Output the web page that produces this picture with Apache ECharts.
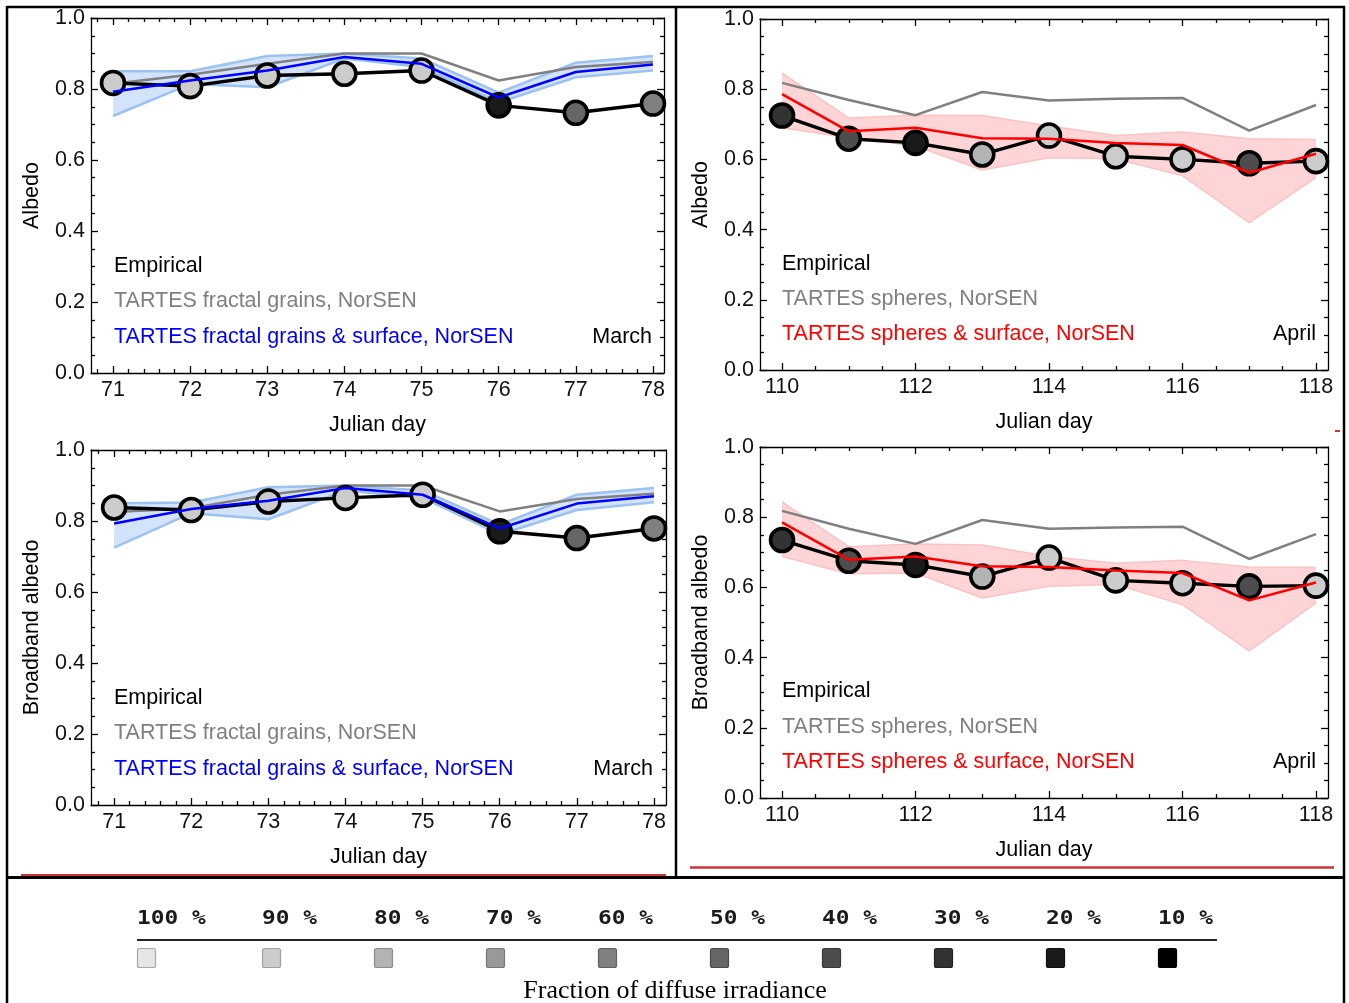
<!DOCTYPE html>
<html>
<head>
<meta charset="utf-8">
<script src="https://cdn.jsdelivr.net/npm/echarts@6/dist/echarts.min.js"></script>
<style>
  html, body { margin: 0; padding: 0; background: #fff; }
  #main { width: 1349px; height: 1003px; }
</style>
</head>
<body>
<div id="main"></div>
<script>
// ---- days ----
const daysMarch = [71, 72, 73, 74, 75, 76, 77, 78];
const daysApril = [110, 111, 112, 113, 114, 115, 116, 117, 118];

// ---- axis tick labels ----
const ticksMarch = [71, 72, 73, 74, 75, 76, 77, 78];
const ticksApril = [110, 112, 114, 116, 118];
const ticksAlbedo = [0, 0.2, 0.4, 0.6, 0.8, 1.0];

// ---- March, albedo ----
const marAlbEmpirical = [0.817, 0.808, 0.838, 0.843, 0.852, 0.754, 0.733, 0.759];
const marAlbDiffuse   = [90, 90, 90, 90, 90, 20, 50, 60];
const marAlbFractal   = [0.815, 0.840, 0.871, 0.900, 0.900, 0.824, 0.862, 0.876];
const marAlbSurface   = [0.792, 0.824, 0.852, 0.890, 0.871, 0.776, 0.848, 0.869];
const marAlbSurfHigh  = [0.850, 0.850, 0.893, 0.900, 0.886, 0.790, 0.874, 0.893];
const marAlbSurfLow   = [0.724, 0.814, 0.805, 0.886, 0.862, 0.762, 0.833, 0.852];

// ---- March, broadband albedo ----
const marBbEmpirical = [0.838, 0.831, 0.855, 0.865, 0.874, 0.771, 0.752, 0.779];
const marBbDiffuse   = [90, 90, 90, 90, 90, 20, 50, 60];
const marBbFractal   = [0.825, 0.836, 0.874, 0.900, 0.900, 0.827, 0.862, 0.877];
const marBbSurface   = [0.793, 0.834, 0.857, 0.893, 0.874, 0.779, 0.849, 0.870];
const marBbSurfHigh  = [0.850, 0.852, 0.895, 0.900, 0.886, 0.790, 0.874, 0.893];
const marBbSurfLow   = [0.725, 0.822, 0.805, 0.886, 0.865, 0.762, 0.831, 0.853];

// ---- April, albedo ----
const aprAlbEmpirical = [0.725, 0.659, 0.647, 0.614, 0.668, 0.609, 0.600, 0.589, 0.595];
const aprAlbDiffuse   = [30, 40, 20, 80, 90, 90, 90, 40, 90];
const aprAlbSpheres   = [0.818, 0.769, 0.726, 0.792, 0.768, 0.773, 0.775, 0.682, 0.755];
const aprAlbSurface   = [0.786, 0.680, 0.690, 0.660, 0.659, 0.647, 0.641, 0.562, 0.616];
const aprAlbSurfHigh  = [0.846, 0.718, 0.726, 0.725, 0.695, 0.668, 0.678, 0.659, 0.657];
const aprAlbSurfLow   = [0.690, 0.662, 0.638, 0.570, 0.605, 0.602, 0.553, 0.420, 0.548];

// ---- April, broadband albedo ----
const aprBbEmpirical = [0.735, 0.676, 0.664, 0.631, 0.685, 0.620, 0.612, 0.603, 0.605];
const aprBbDiffuse   = [30, 40, 20, 80, 90, 90, 90, 40, 90];
const aprBbSpheres   = [0.818, 0.767, 0.724, 0.792, 0.767, 0.771, 0.773, 0.681, 0.752];
const aprBbSurface   = [0.785, 0.679, 0.688, 0.660, 0.658, 0.648, 0.641, 0.563, 0.614];
const aprBbSurfHigh  = [0.844, 0.716, 0.724, 0.721, 0.688, 0.669, 0.677, 0.658, 0.657];
const aprBbSurfLow   = [0.688, 0.639, 0.641, 0.570, 0.603, 0.608, 0.551, 0.419, 0.556];

// ---- diffuse-fraction key ----
const diffuseLevels = [100, 90, 80, 70, 60, 50, 40, 30, 20, 10];
const diffuseGrays  = ['#e6e6e6', '#cccccc', '#b3b3b3', '#999999', '#808080',
                       '#666666', '#4d4d4d', '#333333', '#1a1a1a', '#000000'];
const diffuseEdges  = ['#a8a8a8', '#a0a0a0', '#8c8c8c', '#787878', '#606060',
                       '#4a4a4a', '#383838', '#222222', '#101010', '#000000'];
const diffuseTitle  = 'Fraction of diffuse irradiance';

// ---- text ----
const txtEmpirical = 'Empirical';
const txtFractal = 'TARTES fractal grains, NorSEN';
const txtFractalSurf = 'TARTES fractal grains & surface, NorSEN';
const txtSpheres = 'TARTES spheres, NorSEN';
const txtSpheresSurf = 'TARTES spheres & surface, NorSEN';
const txtXName = 'Julian day';

const SANS = '"Liberation Sans", Arial, Helvetica, sans-serif';
const FS = 21.5;
const grayFor = p => diffuseGrays[diffuseLevels.indexOf(p)];

function minorTicks(a, b, step, majors) {
  const out = [];
  const n = Math.round((b - a) / step);
  for (let k = 0; k <= n; k++) {
    const v = Math.round((a + k * step) * 100) / 100;
    if (majors.indexOf(v) < 0) out.push(v);
  }
  return out;
}

const panels = [
  {
    grid: { left: 91, top: 18, width: 573, height: 355 },
    xMin: 70.715, xMax: 78.143, ticks: ticksMarch,
    minors: minorTicks(70.8, 78.0, 0.2, ticksMarch),
    yName: 'Albedo', days: daysMarch,
    emp: marAlbEmpirical, diffuse: marAlbDiffuse, base: marAlbFractal,
    surf: marAlbSurface, hi: marAlbSurfHigh, lo: marAlbSurfLow,
    surfColor: '#0000ff', bandFill: '#d2e3fb', bandEdge: '#9cc2f2', bandEdgeWidth: 2.5,
    textX: 114, textY: [266, 301, 337], monthX: 652, month: 'March',
    labels: [txtEmpirical, txtFractal, txtFractalSurf]
  },
  {
    grid: { left: 760, top: 19, width: 568, height: 351 },
    xMin: 109.67, xMax: 118.18, ticks: ticksApril,
    minors: minorTicks(110, 118, 0.5, ticksApril),
    yName: 'Albedo', days: daysApril,
    emp: aprAlbEmpirical, diffuse: aprAlbDiffuse, base: aprAlbSpheres,
    surf: aprAlbSurface, hi: aprAlbSurfHigh, lo: aprAlbSurfLow,
    surfColor: '#ff0000', bandFill: '#fdd5d6', bandEdge: '#fbc3c4', bandEdgeWidth: 1.5,
    textX: 782, textY: [264, 299, 334], monthX: 1316, month: 'April',
    labels: [txtEmpirical, txtSpheres, txtSpheresSurf]
  },
  {
    grid: { left: 91, top: 450, width: 575, height: 355 },
    xMin: 70.7, xMax: 78.156, ticks: ticksMarch,
    minors: minorTicks(70.8, 78.0, 0.2, ticksMarch),
    yName: 'Broadband albedo', days: daysMarch,
    emp: marBbEmpirical, diffuse: marBbDiffuse, base: marBbFractal,
    surf: marBbSurface, hi: marBbSurfHigh, lo: marBbSurfLow,
    surfColor: '#0000ff', bandFill: '#d2e3fb', bandEdge: '#9cc2f2', bandEdgeWidth: 2.5,
    textX: 114, textY: [698, 733, 769], monthX: 653, month: 'March',
    labels: [txtEmpirical, txtFractal, txtFractalSurf]
  },
  {
    grid: { left: 760, top: 447, width: 568, height: 351 },
    xMin: 109.67, xMax: 118.18, ticks: ticksApril,
    minors: minorTicks(110, 118, 0.5, ticksApril),
    yName: 'Broadband albedo', days: daysApril,
    emp: aprBbEmpirical, diffuse: aprBbDiffuse, base: aprBbSpheres,
    surf: aprBbSurface, hi: aprBbSurfHigh, lo: aprBbSurfLow,
    surfColor: '#ff0000', bandFill: '#fdd5d6', bandEdge: '#fbc3c4', bandEdgeWidth: 1.5,
    textX: 782, textY: [691, 727, 762], monthX: 1316, month: 'April',
    labels: [txtEmpirical, txtSpheres, txtSpheresSurf]
  }
];

const frameLine = { color: '#000', width: 1.3 };
const labelStyle = { fontFamily: SANS, fontSize: FS, color: '#111' };

const grids = [], xAxes = [], yAxes = [], series = [], graphics = [];

panels.forEach((p, g) => {
  grids.push(Object.assign({ containLabel: false }, p.grid));

  const xBase = {
    gridIndex: g, type: 'value', min: p.xMin, max: p.xMax,
    splitLine: { show: false }, minorSplitLine: { show: false }
  };
  // bottom: frame edge, major ticks, labels, name
  xAxes.push(Object.assign({}, xBase, {
    position: 'bottom',
    axisLine: { show: true, onZero: false, lineStyle: frameLine },
    axisTick: { show: true, inside: true, length: 7, customValues: p.ticks, lineStyle: frameLine },
    axisLabel: Object.assign({ show: true, margin: 6, customValues: p.ticks }, labelStyle),
    name: txtXName, nameLocation: 'middle', nameGap: 41,
    nameTextStyle: { fontFamily: SANS, fontSize: FS, color: '#000' }
  }));
  // bottom: minor ticks
  xAxes.push(Object.assign({}, xBase, {
    position: 'bottom',
    axisLine: { show: false, onZero: false },
    axisTick: { show: true, inside: true, length: 4, customValues: p.minors, lineStyle: frameLine },
    axisLabel: { show: false }
  }));
  // top: frame edge, major ticks
  xAxes.push(Object.assign({}, xBase, {
    position: 'top',
    axisLine: { show: true, onZero: false, lineStyle: frameLine },
    axisTick: { show: true, inside: true, length: 7, customValues: p.ticks, lineStyle: frameLine },
    axisLabel: { show: false }
  }));
  // top: minor ticks
  xAxes.push(Object.assign({}, xBase, {
    position: 'top',
    axisLine: { show: false, onZero: false },
    axisTick: { show: true, inside: true, length: 4, customValues: p.minors, lineStyle: frameLine },
    axisLabel: { show: false }
  }));

  const yBase = {
    gridIndex: g, type: 'value', min: 0, max: 1, interval: 0.2,
    axisLine: { show: true, onZero: false, lineStyle: frameLine },
    axisTick: { show: true, inside: true, length: 7, lineStyle: frameLine },
    minorTick: { show: true, splitNumber: 4, length: 4, lineStyle: frameLine },
    splitLine: { show: false }, minorSplitLine: { show: false }
  };
  yAxes.push(Object.assign({}, yBase, {
    position: 'left',
    axisLabel: Object.assign({ show: true, margin: 6, formatter: v => v.toFixed(1) }, labelStyle),
    name: p.yName, nameLocation: 'middle', nameGap: 48,
    nameTextStyle: { fontFamily: SANS, fontSize: FS, color: '#000' }
  }));
  yAxes.push(Object.assign({}, yBase, { position: 'right', axisLabel: { show: false } }));

  const xi = 4 * g, yi = 2 * g;
  const pairs = arr => p.days.map((d, i) => [d, arr[i]]);

  // uncertainty band of the surface model
  series.push({
    type: 'custom', xAxisIndex: xi, yAxisIndex: yi, silent: true, z: 1, clip: true,
    data: [[p.days[0], p.lo[0]]],
    renderItem: (params, api) => {
      const up = p.days.map((d, i) => api.coord([d, p.hi[i]]));
      const dn = p.days.map((d, i) => api.coord([d, p.lo[i]])).reverse();
      return { type: 'polygon', shape: { points: up.concat(dn) }, style: { fill: p.bandFill } };
    }
  });
  [p.hi, p.lo].forEach(edge => series.push({
    type: 'line', xAxisIndex: xi, yAxisIndex: yi, silent: true, z: 2,
    data: pairs(edge), showSymbol: false, symbol: 'none',
    lineStyle: { color: p.bandEdge, width: p.bandEdgeWidth }
  }));

  // TARTES without surface
  series.push({
    type: 'line', xAxisIndex: xi, yAxisIndex: yi, silent: true, z: 3,
    data: pairs(p.base), symbol: 'none',
    lineStyle: { color: '#808080', width: 2.5 }
  });

  // empirical albedo, markers shaded by diffuse fraction
  series.push({
    type: 'line', xAxisIndex: xi, yAxisIndex: yi, silent: true, z: 4, clip: false,
    data: p.days.map((d, i) => ({
      value: [d, p.emp[i]],
      itemStyle: { color: grayFor(p.diffuse[i]), borderColor: '#000', borderWidth: 3.6 }
    })),
    symbol: 'circle', symbolSize: 23, showSymbol: true,
    lineStyle: { color: '#000', width: 3.4 }
  });

  // TARTES with surface
  series.push({
    type: 'line', xAxisIndex: xi, yAxisIndex: yi, silent: true, z: 5,
    data: pairs(p.surf), symbol: 'none',
    lineStyle: { color: p.surfColor, width: 2.5 }
  });

  // in-plot key
  const keyColors = ['#000', '#808080', p.surfColor];
  p.labels.forEach((t, k) => graphics.push({
    type: 'text', x: p.textX, y: p.textY[k], z: 50,
    style: { text: t, fill: keyColors[k], fontFamily: SANS, fontSize: FS,
             align: 'left', verticalAlign: 'middle' }
  }));
  graphics.push({
    type: 'text', x: p.monthX, y: p.textY[2], z: 50,
    style: { text: p.month, fill: '#000', fontFamily: SANS, fontSize: FS,
             align: 'right', verticalAlign: 'middle' }
  });
});

// ---- page rules ----
const rule = (x1, y1, x2, y2, color, w) => ({
  type: 'line', z: 60, shape: { x1, y1, x2, y2 }, style: { stroke: color, lineWidth: w }
});
graphics.push(
  rule(7, 7, 1345, 7, '#000', 2.5),
  rule(7, 6, 7, 1003, '#000', 2.5),
  rule(1344, 6, 1344, 1003, '#000', 2.5),
  rule(676, 6, 676, 877, '#000', 2.5),
  rule(21, 875, 666, 875, '#d13438', 2),
  rule(690, 867.5, 1334, 867.5, '#d13438', 2.5),
  rule(1335, 431, 1340, 431, '#d13438', 2),
  rule(6, 877.5, 1345, 877.5, '#000', 3)
);

// ---- diffuse-fraction key ----
const keyLeft = [137, 262, 374, 486, 598, 710, 822, 934, 1046, 1158];
diffuseLevels.forEach((lvl, i) => {
  graphics.push({
    type: 'text', x: keyLeft[i], y: 919, z: 60, scaleX: 1.2,
    style: { text: lvl + ' %', fill: '#1a1a1a', fontFamily: '"DejaVu Sans Mono", monospace',
             fontSize: 19, fontWeight: 'bold', align: 'left', verticalAlign: 'middle' }
  });
  graphics.push({
    type: 'rect', z: 60, shape: { x: keyLeft[i] + 0.5, y: 948.5, width: 18, height: 19, r: 2 },
    style: { fill: diffuseGrays[i], stroke: diffuseEdges[i], lineWidth: 1.2 }
  });
});
graphics.push(rule(137, 940, 1217, 940, '#222', 2));
graphics.push({
  type: 'text', x: 675, y: 991, z: 60,
  style: { text: diffuseTitle, fill: '#000', fontFamily: '"Liberation Serif", "Times New Roman", serif',
           fontSize: 26, align: 'center', verticalAlign: 'middle' }
});

const chart = echarts.init(document.getElementById('main'), null, { renderer: 'canvas' });
chart.setOption({
  animation: false,
  backgroundColor: '#fff',
  grid: grids,
  xAxis: xAxes,
  yAxis: yAxes,
  series: series,
  graphic: { elements: graphics }
});
</script>
</body>
</html>
